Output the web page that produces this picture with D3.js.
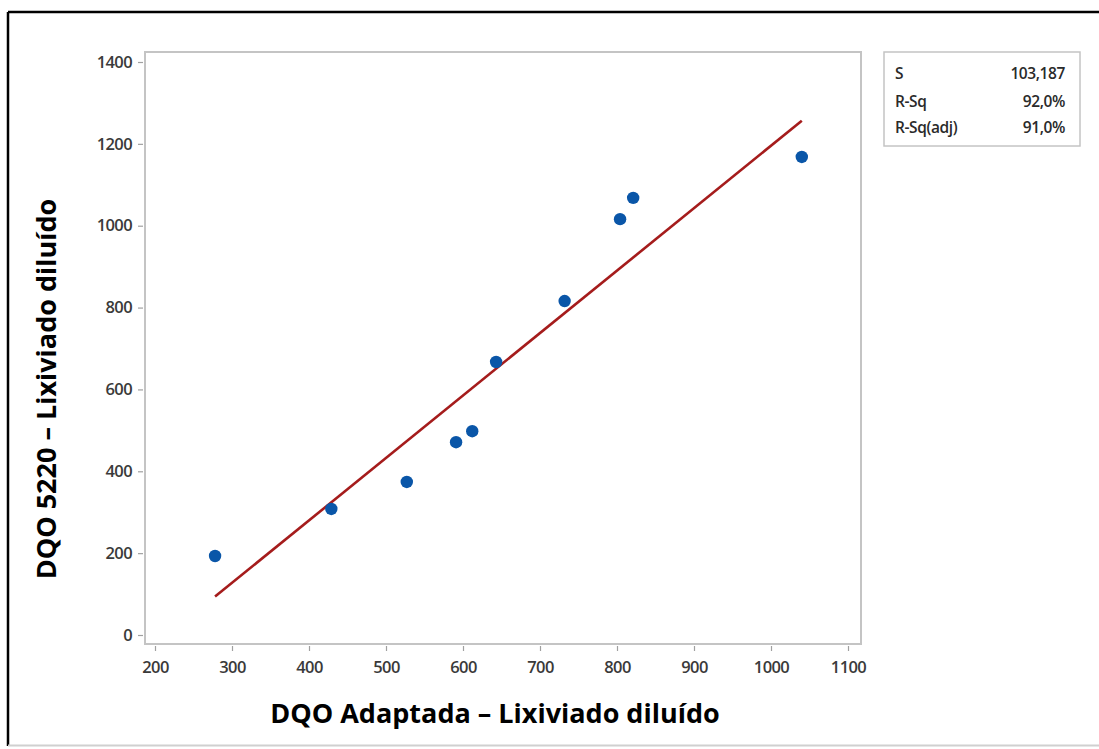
<!DOCTYPE html>
<html><head><meta charset="utf-8">
<script src="https://cdn.jsdelivr.net/npm/d3@7"></script>
<style>body{margin:0;background:#fff}svg{display:block}</style>
</head><body>
<svg id="c" width="1099" height="749"></svg>
<script>
const xValues = [278, 429, 527, 591, 612, 643, 732, 804, 821, 1040];
const yValues = [193, 308, 374, 471, 498, 667, 816, 1016, 1068, 1168];
const xTicks = [200, 300, 400, 500, 600, 700, 800, 900, 1000, 1100];
const yTicks = [0, 200, 400, 600, 800, 1000, 1200, 1400];
const statLabels = ["S", "R-Sq", "R-Sq(adj)"];
const statValues = ["103,187", "92,0%", "91,0%"];
const xTitle = "DQO Adaptada \u2013 Lixiviado diluído";
const yTitle = "DQO 5220 \u2013 Lixiviado diluído";

const svg = d3.select("#c");
const font = "'Open Sans', 'Noto Sans', sans-serif";

// outer border
svg.append("line").attr("x1",8).attr("x2",8).attr("y1",12).attr("y2",746).attr("stroke","#000").attr("stroke-width",2.5);
svg.append("line").attr("x1",8).attr("x2",1099).attr("y1",12).attr("y2",12).attr("stroke","#000").attr("stroke-width",2.5);
svg.append("line").attr("x1",8).attr("x2",1099).attr("y1",745.5).attr("y2",745.5).attr("stroke","#d0d0d0").attr("stroke-width",2);

const frame = {l:145, t:52, r:861, b:644};
const x = d3.scaleLinear().domain([200,1100]).range([155,848]);
const y = d3.scaleLinear().domain([0,1400]).range([635,62]);

svg.append("rect").attr("x",frame.l).attr("y",frame.t).attr("width",frame.r-frame.l).attr("height",frame.b-frame.t)
  .attr("fill","none").attr("stroke","#c4c4c4").attr("stroke-width",2);

const tickFont = 16.5;
// x axis
const xa = svg.append("g").attr("transform",`translate(0,${frame.b+2})`)
  .call(d3.axisBottom(x).tickValues(xTicks).tickSize(5).tickPadding(10).tickFormat(d3.format("d")));
xa.select(".domain").remove();
xa.selectAll("line").attr("stroke","#a0a0a0").attr("stroke-width",1.2);
xa.selectAll("text").attr("font-family",font).attr("font-size",tickFont).attr("fill","#3a3a3a").attr("font-weight",600).attr("letter-spacing",-0.6);

const ya = svg.append("g").attr("transform",`translate(${frame.l-2},0)`)
  .call(d3.axisLeft(y).tickValues(yTicks).tickSize(5).tickPadding(6).tickFormat(d3.format("d")));
ya.select(".domain").remove();
ya.selectAll("line").attr("stroke","#a0a0a0").attr("stroke-width",1.2);
ya.selectAll("text").attr("font-family",font).attr("font-size",tickFont).attr("fill","#3a3a3a").attr("font-weight",600).attr("letter-spacing",-0.6);

// regression line from data
const n = xValues.length;
const mx = d3.mean(xValues), my = d3.mean(yValues);
let sxy=0, sxx=0;
for (let i=0;i<n;i++){ sxy += (xValues[i]-mx)*(yValues[i]-my); sxx += (xValues[i]-mx)**2; }
const slope = sxy/sxx, icpt = my - slope*mx;
const x0 = d3.min(xValues), x1 = d3.max(xValues);
svg.append("line").attr("x1",x(x0)).attr("y1",y(icpt+slope*x0)).attr("x2",x(x1)).attr("y2",y(icpt+slope*x1))
  .attr("stroke","#a51c1c").attr("stroke-width",2.6);

// points
svg.append("g").selectAll("circle").data(xValues).join("circle")
  .attr("cx",(d)=>x(d)).attr("cy",(d,i)=>y(yValues[i])).attr("r",6.2).attr("fill","#0a56a8");

// stats box
svg.append("rect").attr("x",884).attr("y",52).attr("width",196).attr("height",94)
  .attr("fill","#fff").attr("stroke","#c4c4c4").attr("stroke-width",1.5);
const rowsY = [79, 107, 133];
statLabels.forEach((s,i)=>{
  svg.append("text").attr("x",895).attr("y",rowsY[i]).text(s)
    .attr("font-family",font).attr("font-size",15.5).attr("fill","#2a2a2a").attr("font-weight",600).attr("letter-spacing",-0.4);
  svg.append("text").attr("x",1065).attr("y",rowsY[i]).attr("text-anchor","end").text(statValues[i])
    .attr("font-family",font).attr("font-size",15.5).attr("fill","#2a2a2a").attr("font-weight",600).attr("letter-spacing",-0.4);
});

// titles
svg.append("text").attr("x",495).attr("y",723).attr("text-anchor","middle").text(xTitle)
  .attr("font-family",font).attr("font-size",27).attr("font-weight",700).attr("fill","#000");
svg.append("text").attr("transform","translate(56,389) rotate(-90)").attr("text-anchor","middle").text(yTitle)
  .attr("font-family",font).attr("font-size",27).attr("font-weight",700).attr("fill","#000");
</script>
</body></html>
